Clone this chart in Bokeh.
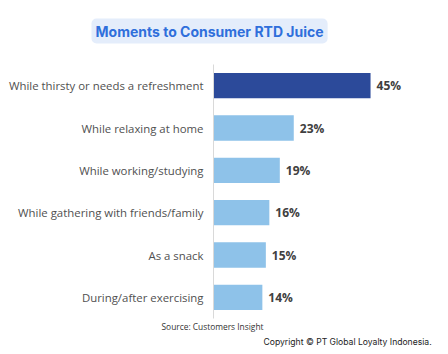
from bokeh.plotting import figure
from bokeh.models import ColumnDataSource, Title, Range1d, FactorRange
from bokeh.core.properties import value
from bokeh.embed import file_html
from bokeh.resources import INLINE

categories = [
    "While thirsty or needs a refreshment",
    "While relaxing at home",
    "While working/studying",
    "While gathering with friends/family",
    "As a snack",
    "During/after exercising",
]
values = [45, 23, 19, 16, 15, 14]
value_labels = ["45%", "23%", "19%", "16%", "15%", "14%"]
title_text = "Moments to Consumer RTD Juice"
source_text = "Source: Customers Insight"
copyright_text = "Copyright \u00a9 PT Global Loyalty Indonesia."

DARK = "#2C4A9A"
LIGHT = "#8EC2E9"
colors = [DARK if i == 0 else LIGHT for i in range(len(categories))]

W, H = 448, 354
LEFT, RIGHT, TOP, BOTTOM = 213, 19, 64, 36
frame_w = W - LEFT - RIGHT
px_per_unit = 3.49
x_end = frame_w / px_per_unit

src = ColumnDataSource(dict(cat=categories, val=values, lab=value_labels, color=colors))

p = figure(
    width=W, height=H,
    y_range=FactorRange(factors=list(reversed(categories)), range_padding=0),
    x_range=Range1d(0, x_end),
    output_backend="svg", toolbar_location=None,
    min_border_left=LEFT, min_border_right=RIGHT,
    min_border_top=TOP, min_border_bottom=BOTTOM,
)
p.background_fill_color = "white"
p.border_fill_color = "white"
p.outline_line_color = None
p.xgrid.visible = False
p.ygrid.visible = False
p.xaxis.visible = False

p.hbar(y="cat", right="val", left=0, height=0.6, color="color", line_color=None, source=src)
p.text(x="val", y="cat", text="lab", source=src, x_offset=6,
       text_baseline="middle", text_align="left",
       text_font=value("Open Sans"), text_font_size="12px", text_font_style="bold",
       text_color="#404040")

ax = p.yaxis[0]
ax.axis_line_color = "#D9D9D9"
ax.axis_line_width = 1
ax.major_tick_line_color = None
ax.minor_tick_line_color = None
ax.major_tick_out = 0
ax.major_tick_in = 0
ax.major_label_standoff = 10
ax.major_label_text_font = "Open Sans"
ax.major_label_text_font_size = "11.4px"
ax.major_label_text_color = "#505050"
ax.major_label_text_font_style = "normal"

p.title = Title(
    text=title_text, align="left", offset=-122, vertical_align="middle",
    text_font="Inter", text_font_size="14px", text_font_style="bold",
    text_color="#2F6FDB",
    background_fill_color="#E4EDFB", standoff=6,
    padding=4, border_radius=5,
)
# blank spacer between the title and the bars
p.add_layout(Title(text=" ", text_font_size="10px", standoff=4), "above")
p.add_layout(Title(
    text=source_text, align="left", offset=-52, standoff=0,
    text_font="Open Sans", text_font_size="8.4px", text_font_style="normal",
    text_color="#333333",
), "below")
p.add_layout(Title(
    text=copyright_text, align="left", offset=50, standoff=6,
    text_font="Inter", text_font_size="8.6px", text_font_style="normal",
    text_color="#222222",
), "below")

open("out.html", "w").write(file_html(p, INLINE))
